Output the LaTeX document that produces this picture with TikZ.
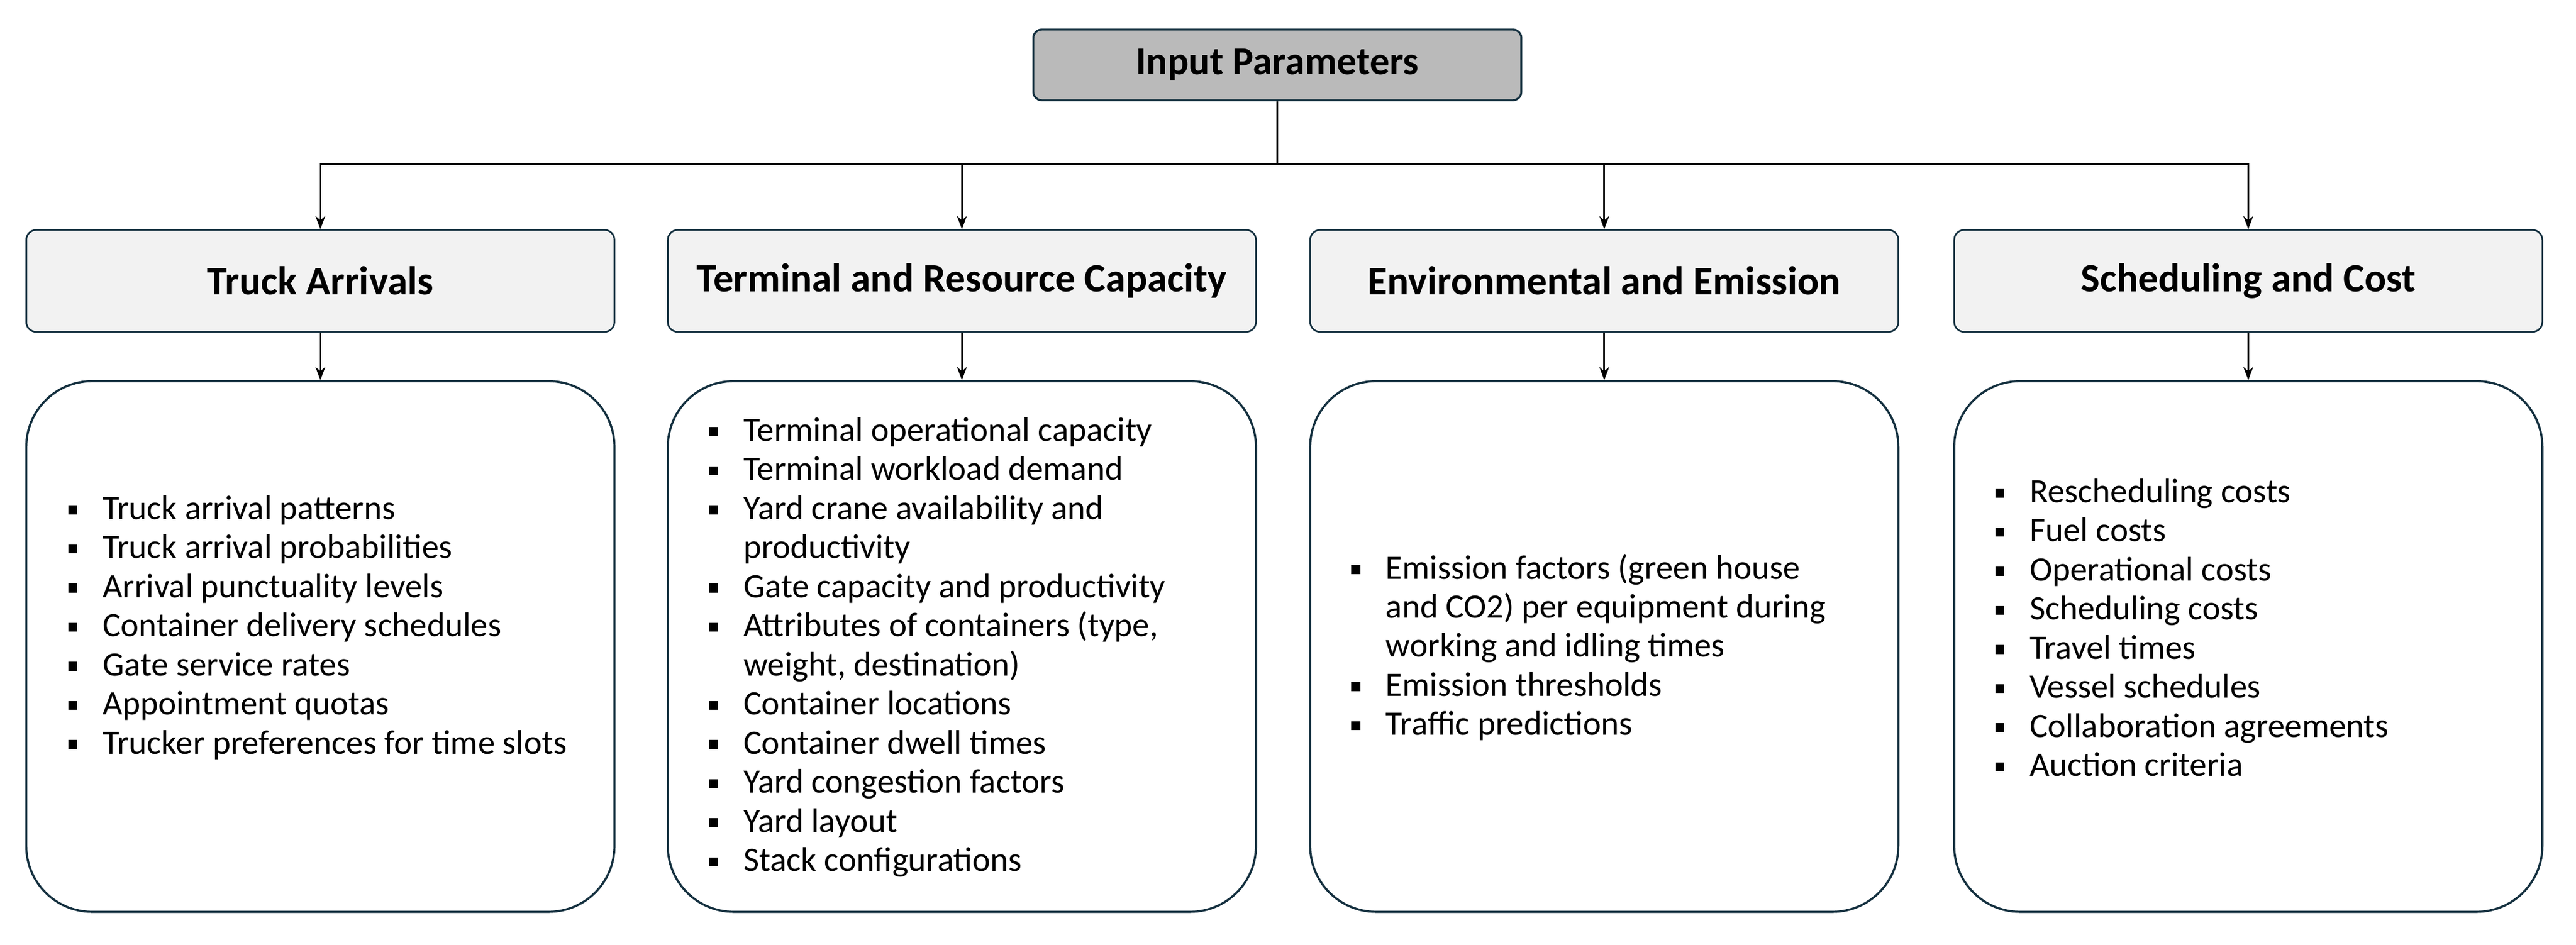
\documentclass[tikz,border=0pt]{standalone}
\usepackage{fontspec}
\setmainfont{Carlito}
\usetikzlibrary{arrows.meta}
\definecolor{edge}{HTML}{14303F}
\newcommand{\blt}{\makebox[21pt][l]{\raisebox{3pt}{\rule{5.5pt}{5.5pt}}}}
\newcommand{\cont}{\hspace*{21pt}}
\begin{document}
\begin{tikzpicture}[x=1pt,y=-1pt,
  top/.style={draw=edge,line width=1.2pt,fill=black!27,rounded corners=5pt,minimum width=297pt,minimum height=43pt,font=\fontsize{24}{26}\selectfont\bfseries},
  head/.style={draw=edge,line width=1pt,fill=black!5,rounded corners=6pt,minimum width=358pt,minimum height=62pt,font=\fontsize{24.5}{26}\selectfont\bfseries},
  box/.style={draw=edge,line width=1.3pt,rounded corners=40pt,minimum width=358pt,minimum height=323pt},
  list/.style={anchor=west,align=left,font=\fontsize{20.8}{23.8}\selectfont},
  arr/.style={line width=1pt,-{Stealth[length=8pt,width=6pt]}}]
\useasboundingbox (0,0) rectangle (1568,575);
\node[top] (ip) at (777.5,39.5) {Input Parameters};
\foreach \n/\x/\t in {h1/195/Truck Arrivals,h2/585.5/Terminal and Resource Capacity,h3/976.5/Environmental and Emission,h4/1368.5/Scheduling and Cost}{
  \node[head] (\n) at (\x,171) {\t};
  \node[box] (b\n) at (\x,393.5) {};
  \draw[arr] (\n.south) -- (b\n.north);
}
\coordinate (j) at (777.5,100);
\draw[line width=1pt] (ip.south) -- (j);
\foreach \n in {h1,h2,h3,h4}{\draw[arr] (j) -| (\n.north);}
\node[list] (l1) at (38,382) {\blt Truck arrival patterns\\ \blt Truck arrival probabilities\\ \blt Arrival punctuality levels\\ \blt Container delivery schedules\\ \blt Gate service rates\\ \blt Appointment quotas\\ \blt Trucker preferences for time slots};
\node[list] (l2) at (428,394) {\blt Terminal operational capacity\\ \blt Terminal workload demand\\ \blt Yard crane availability and\\ \cont productivity\\ \blt Gate capacity and productivity\\ \blt Attributes of containers (type,\\ \cont weight, destination)\\ \blt Container locations\\ \blt Container dwell times\\ \blt Yard congestion factors\\ \blt Yard layout\\ \blt Stack configurations};
\node[list] (l3) at (819,394) {\blt Emission factors (green house\\ \cont and CO2) per equipment during\\ \cont working and idling times\\ \blt Emission thresholds\\ \blt Traffic predictions};
\node[list] (l4) at (1211,382) {\blt Rescheduling costs\\ \blt Fuel costs\\ \blt Operational costs\\ \blt Scheduling costs\\ \blt Travel times\\ \blt Vessel schedules\\ \blt Collaboration agreements\\ \blt Auction criteria};
\end{tikzpicture}
\end{document}
